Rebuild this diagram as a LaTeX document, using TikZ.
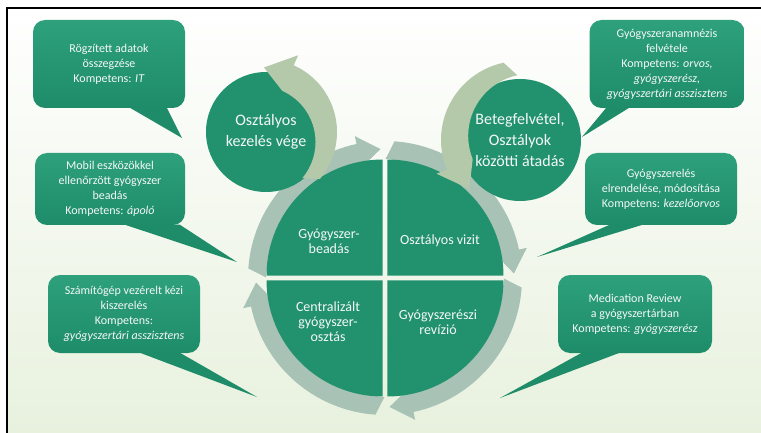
\documentclass[tikz,border=0pt]{standalone}
\usepackage{fontspec}
\setmainfont{Carlito}
\usetikzlibrary{positioning}
\definecolor{colorbubble}{RGB}{46 ,160,124}
\definecolor{colorbubbledk}{RGB}{30,140,104}
\definecolor{colorquad}  {RGB}{34 ,146,110}
\definecolor{colorring}  {RGB}{168,194,182}
\definecolor{colorbend}  {RGB}{180,200,170}
\definecolor{colortext}  {RGB}{244,248,246}
\definecolor{colorback}  {RGB}{232,241,222}

% curved arrow: centre, inner r, outer r, start, head base, tip, head overhang, colour
\newcommand{\bentarrow}[8]{%
  \begin{scope}[shift={(#1)}]
    \fill[#8] (#4:#3) arc[start angle=#4, end angle=#5, radius=#3]
      -- (#5:{#3+#7}) -- (#6:{(#2+#3)/2}) -- (#5:{#2-#7})
      arc[start angle=#5, end angle=#4, radius=#2] -- cycle;
  \end{scope}}

\begin{document}
\begin{tikzpicture}[
    x=1pt, y=1pt,
    bubble/.style={top color=colorbubble,bottom color=colorbubbledk,text=colortext,rounded corners=12pt,
                   align=center,inner sep=0pt,font={\fontsize{12}{15}\selectfont}},
    stage/.style={circle,fill=colorquad,text=colortext,align=center,inner sep=0pt,
                  font={\fontsize{16}{21}\selectfont}},
    quadtxt/.style={text=colortext,align=center,font={\fontsize{14}{15}\selectfont}},
]
    \useasboundingbox (0,0) rectangle (761,-433);

    % Background and frame
    \shade[top color=white,bottom color=colorback] (7,-8) rectangle (761,-433);
    \draw[line width=2pt] (7,-433) -- (7,-8) -- (761,-8);

    % Ring arrows
    \bentarrow{385,-278}{121}{137}{176}{102}{92}{8}{colorring}
    \bentarrow{385,-278}{121}{137}{86}{12}{2}{8}{colorring}
    \bentarrow{385,-278}{121}{137}{356}{282}{272}{8}{colorring}
    \bentarrow{385,-278}{121}{137}{266}{192}{182}{8}{colorring}

    % Quadrants
    \begin{scope}[shift={(385,-278)}]
        \foreach \a in {0,90,180,270}
            \fill[colorquad] (\a+45:3.5) -- ++(\a:116) arc[start angle=\a, end angle=\a+90, radius=116] -- cycle;
    \end{scope}

    % Quadrant text
    \node[quadtxt] (beadas)   at (329,-241) {Gyógyszer-\\beadás};
    \node[quadtxt] (vizit)    at (440,-241) {Osztályos vizit};
    \node[quadtxt] (osztas)   at (328,-322) {Centralizált\\gyógyszer-\\osztás};
    \node[quadtxt] (revizio)  at (438,-322) {Gyógyszerészi\\revízió};

    % Circles
    \node[stage,minimum size=120pt] (vege)   at (266,-132) {Osztályos\\kezelés vége};
    \node[stage,minimum size=122pt] (felvet) at (520,-140) {Betegfelvétel,\\Osztályok\\közötti átadás};

    % Circle arrows
    \bentarrow{264,-132}{56}{73}{-40}{66}{90}{11}{colorbend}
    \bentarrow{520,-140}{62}{79}{102}{202}{224}{11}{colorbend}

    % Callouts
    \node[bubble,minimum width=152pt,minimum height=88pt] (rec1) at (109,-64)
        {Rögzített adatok\\összegzése\\Kompetens: \textit{IT}};
    \node[bubble,minimum width=150pt,minimum height=72pt] (rec2) at (110,-189)
        {Mobil eszközökkel\\ellenőrzött gyógyszer\\beadás\\Kompetens: \textit{ápoló}};
    \node[bubble,minimum width=152pt,minimum height=78pt] (rec3) at (124,-314)
        {Számítógép vezérelt kézi\\kiszerelés\\Kompetens:\\\textit{gyógyszertári asszisztens}};
    \node[bubble,minimum width=155pt,minimum height=88pt] (rec4) at (667,-64)
        {Gyógyszeranamnézis\\felvétele\\Kompetens: \textit{orvos,}\\\textit{gyógyszerész,}\\\textit{gyógyszertári asszisztens}};
    \node[bubble,minimum width=152pt,minimum height=72pt] (rec5) at (661,-189)
        {Gyógyszerelés\\elrendelése, módosítása\\Kompetens: \textit{kezelőorvos}};
    \node[bubble,minimum width=154pt,minimum height=78pt] (rec6) at (635,-314)
        {Medication Review\\a gyógyszertárban\\Kompetens: \textit{gyógyszerész}};

    % Callout tips
    \coordinate (tip1) at (182,-138);
    \coordinate (tip2) at (237,-262);
    \coordinate (tip3) at (257,-397);
    \coordinate (tip4) at (582,-137);
    \coordinate (tip5) at (537,-257);
    \coordinate (tip6) at (500,-398);
    \fill[colorbubbledk] ([shift={(97,0.5)}]rec1.south west) -- (tip1) -- ([shift={(134,0.5)}]rec1.south west) -- cycle;
    \fill[colorbubbledk] ([shift={(90,0.5)}]rec2.south west) -- (tip2) -- ([shift={(145,0.5)}]rec2.south west) -- cycle;
    \fill[colorbubbledk] ([shift={(92,0.5)}]rec3.south west) -- (tip3) -- ([shift={(132,0.5)}]rec3.south west) -- cycle;
    \fill[colorbubbledk] ([shift={(17,0.5)}]rec4.south west) -- (tip4) -- ([shift={(40,0.5)}]rec4.south west) -- cycle;
    \fill[colorbubbledk] ([shift={(25,0.5)}]rec5.south west) -- (tip5) -- ([shift={(58,0.5)}]rec5.south west) -- cycle;
    \fill[colorbubbledk] ([shift={(24,0.5)}]rec6.south west) -- (tip6) -- ([shift={(62,0.5)}]rec6.south west) -- cycle;

\end{tikzpicture}
\end{document}
